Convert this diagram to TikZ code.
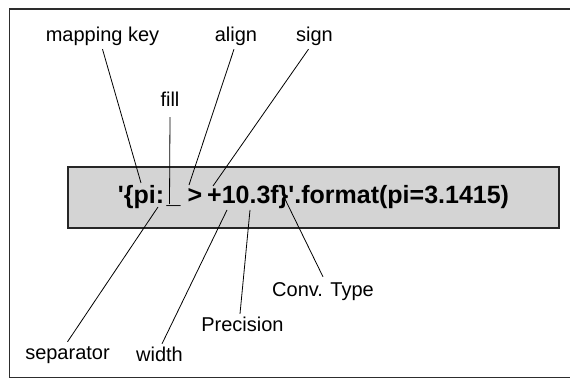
\documentclass[tikz,border=0pt]{standalone}
\usepackage{fontspec}
\setmainfont{Liberation Sans}
\usepackage{tikz}
\usetikzlibrary{positioning}

\definecolor{boxgray}{RGB}{212,212,212}
\definecolor{framegray}{RGB}{45,45,45}

\tikzset{
	lbl/.style={anchor=base, inner sep=3pt, text height=14pt, text depth=4pt,
		font=\fontsize{20}{22}\selectfont},
	codebox/.style={draw=black!85, line width=1.2pt, fill=boxgray,
		minimum width=491pt, minimum height=61pt, inner sep=0pt,
		font=\fontsize{25}{30}\selectfont\bfseries},
	pointer/.style={black, line width=0.8pt}
}

\begin{document}
\begin{tikzpicture}[x=1pt,y=-1pt]
		\useasboundingbox (0,0) rectangle (570,379);
		\draw [framegray, line width=1.5pt] (575,9) -- (9.5,9) -- (9.5,377.5) -- (575,377.5);% Open frame

		\node[codebox] (fmt) at (313.5,197.5)
			{\textquotesingle\{pi:\hspace{2.5pt}\_\hspace{7pt}>\hspace{5pt}+10.3f\}\textquotesingle.format(pi=3.1415)};

		% Points on the format string
		\coordinate (KeyPt)  at (141,183);
		\coordinate (FillPt) at (169.5,204);
		\coordinate (AlgnPt) at (189,185);
		\coordinate (SignPt) at (213,186);
		\coordinate (SepPt)  at (158,207);
		\coordinate (WidPt)  at (227,210);
		\coordinate (PrecPt) at (250,210);
		\coordinate (ConvPt) at (283,195);

		% Labels above
		\node[lbl] (mapkey) at (102.5,42) {mapping key};
		\node[lbl] (align)  at (236,42)   {align};
		\node[lbl] (sign)   at (314.5,42) {sign};
		\node[lbl] (fill)   at (170,107)  {fill};
		% Labels below
		\node[lbl] (sep)  at (67.5,359) {separator};
		\node[lbl] (wid)  at (159.5,361) {width};
		\node[lbl] (prec) at (242.5,331) {Precision};
		\node[lbl] (conv) at (323,296)   {Conv. Type};

		\draw[pointer] (mapkey.south) -- (KeyPt);
		\draw[pointer] ([yshift=-3pt]fill.south) -- (FillPt);
		\draw[pointer] ([xshift=-2pt]align.south) -- (AlgnPt);
		\draw[pointer] ([xshift=-6pt]sign.south) -- (SignPt);
		\draw[pointer] (sep.north) -- (SepPt);
		\draw[pointer] ([xshift=2.5pt]wid.north) -- (WidPt);
		\draw[pointer] ([xshift=-2.5pt]prec.north) -- (PrecPt);
		\draw[pointer] ([yshift=2pt]conv.north) -- (ConvPt);
	  \end{tikzpicture}
\end{document}
